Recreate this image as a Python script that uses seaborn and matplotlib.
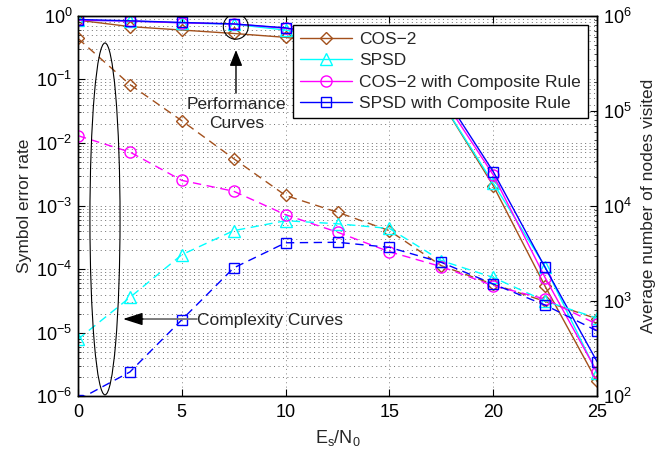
import matplotlib
matplotlib.use("Agg")
import matplotlib.pyplot as plt
import seaborn as sns
from matplotlib.patches import Ellipse
from matplotlib.ticker import LogLocator, NullFormatter, FixedLocator

# ---------------- data ----------------
snr = [0, 2.5, 5, 7.5, 10, 12.5, 15, 17.5, 20, 22.5, 25]
names = ["COS\u22122", "SPSD", "COS\u22122 with Composite Rule", "SPSD with Composite Rule"]

# symbol error rate (left axis, solid "performance curves")
ser_cos2 = [0.86, 0.68, 0.60, 0.53, 0.46, 0.37, 0.22, 0.045, 2.1e-3, 5.4e-5, 1.7e-6]
ser_spsd = [0.86, 0.83, 0.78, 0.74, 0.60, 0.42, 0.24, 0.045, 2.3e-3, 1.1e-4, 2.3e-6]
ser_cos2c = [0.86, 0.83, 0.78, 0.75, 0.64, 0.46, 0.28, 0.055, 3.1e-3, 7.4e-5, 2.4e-6]
ser_spsdc = [0.88, 0.84, 0.79, 0.75, 0.65, 0.48, 0.30, 0.065, 3.5e-3, 1.07e-4, 3.5e-6]

# average number of nodes visited (right axis, dashed "complexity curves")
nodes_cos2 = [5.8e5, 1.9e5, 7.9e4, 3.15e4, 1.29e4, 8.6e3, 5.5e3, 2.35e3, 1.5e3, 990, 650]
nodes_spsd = [396, 1090, 3070, 5500, 7000, 6500, 5800, 2660, 1770, 1000, 660]
nodes_cos2c = [5.5e4, 3.7e4, 1.86e4, 1.43e4, 8100, 5300, 3300, 2300, 1450, 1050, 570]
nodes_spsdc = [91, 179, 634, 2230, 4100, 4150, 3670, 2550, 1510, 906, 485]

colors = ["#A3501C", "#00FFFF", "#FF00FF", "#0000FF"]
markers = ["D", "^", "o", "s"]
msizes = [6.5, 8.5, 8.0, 7.0]

ser_all = [ser_cos2, ser_spsd, ser_cos2c, ser_spsdc]
nodes_all = [nodes_cos2, nodes_spsd, nodes_cos2c, nodes_spsdc]

# ---------------- style ----------------
sns.set_theme(style="white")
plt.rcParams["font.family"] = ["Liberation Sans", "DejaVu Sans"]
plt.rcParams["mathtext.fontset"] = "custom"
plt.rcParams["mathtext.rm"] = "Liberation Sans"
plt.rcParams["mathtext.it"] = "Liberation Sans:italic"
plt.rcParams["mathtext.default"] = "regular"
plt.rcParams["axes.edgecolor"] = "black"
plt.rcParams["axes.linewidth"] = 1.0

fig = plt.figure(figsize=(6.72, 4.54), dpi=100)
ax = fig.add_axes([78 / 672, 1 - 396 / 454, 519 / 672, 380 / 454])
ax2 = ax.twinx()

ax.set_yscale("log")
ax2.set_yscale("log")

handles = []
for y, c, m, ms in zip(ser_all, colors, markers, msizes):
    sns.lineplot(x=snr, y=y, ax=ax, color=c, marker=m, markersize=ms,
                 markerfacecolor="none", markeredgecolor=c, markeredgewidth=1.0,
                 linewidth=1.0, errorbar=None, legend=False, sort=False)
    handles.append(ax.lines[-1])

for y, c, m, ms in zip(nodes_all, colors, markers, msizes):
    sns.lineplot(x=snr, y=y, ax=ax2, color=c, marker=m, markersize=ms,
                 markerfacecolor="none", markeredgecolor=c, markeredgewidth=1.0,
                 linewidth=1.0, dashes=(6, 4), errorbar=None, legend=False, sort=False)

ax.set_xlim(0, 25)
ax.set_ylim(1e-6, 1)
ax2.set_ylim(1e2, 1e6)

ax.xaxis.set_major_locator(FixedLocator([0, 5, 10, 15, 20, 25]))
ax.set_xticklabels(["0", "5", "10", "15", "20", "25"])
for a in (ax, ax2):
    a.yaxis.set_major_locator(LogLocator(base=10, numticks=20))
    a.yaxis.set_minor_locator(LogLocator(base=10, subs=range(2, 10), numticks=20))
    a.yaxis.set_minor_formatter(NullFormatter())

ax.tick_params(axis="x", which="major", direction="in", top=True, bottom=True,
               length=5, width=0.8, labelsize=13, colors="black", pad=6)
ax.tick_params(axis="y", which="major", direction="in", left=True, right=False,
               length=5, width=0.8, labelsize=13, colors="black", pad=4)
ax.tick_params(axis="y", which="minor", direction="in", left=True, right=False,
               length=2.5, width=0.6)
ax2.tick_params(axis="y", which="major", direction="in", right=True, left=False,
                length=5, width=0.8, labelsize=13, colors="black", pad=4)
ax2.tick_params(axis="y", which="minor", direction="in", right=True, left=False,
                length=2.5, width=0.6)

ax.grid(which="both", axis="y", color="0.2", linewidth=0.5,
        linestyle=(0, (1.4, 5.0)))
ax.grid(which="major", axis="x", color="0.5", linewidth=0.6,
        linestyle=(0, (1.3, 4.0)))
ax2.grid(False)

ax.set_xlabel(r"E$_s$/N$_0$", fontsize=13, labelpad=5)
ax.set_ylabel("Symbol error rate", fontsize=12.5, labelpad=3)
ax2.set_ylabel("Average number of nodes visited", fontsize=12.5, labelpad=7)

leg = ax2.legend(handles, names, loc="upper right", bbox_to_anchor=(0.983, 0.976),
                 borderaxespad=0, fontsize=12.5, frameon=True, fancybox=False,
                 edgecolor="black", framealpha=1, borderpad=0.4, labelspacing=0.35,
                 handlelength=3.0, handletextpad=0.45)
leg.get_frame().set_linewidth(1.0)
leg.set_zorder(10)

# ---------------- annotations ----------------
ax2.add_patch(Ellipse((0.052, 0.466), 0.058, 0.926, transform=ax.transAxes,
                      fill=False, edgecolor="black", linewidth=0.8, zorder=6))
ax2.add_patch(Ellipse((0.304, 0.972), 0.048, 0.066, transform=ax.transAxes,
                      fill=False, edgecolor="black", linewidth=0.8, zorder=6))

ax2.annotate("", xy=(0.3044, 0.9105), xytext=(0.3044, 0.797),
             xycoords=ax.transAxes, textcoords=ax.transAxes,
             arrowprops=dict(arrowstyle="-|>,head_length=0.8,head_width=0.32",
                             color="black", lw=1.0, shrinkA=0, shrinkB=0))
ax2.text(0.305, 0.742, "Performance\nCurves", transform=ax.transAxes,
         ha="center", va="center", fontsize=12.5, multialignment="center",
         linespacing=1.3, zorder=7)

ax2.annotate("", xy=(0.11, 0.2026), xytext=(0.229, 0.2026),
             xycoords=ax.transAxes, textcoords=ax.transAxes,
             arrowprops=dict(arrowstyle="-", color="0.45", lw=1.3,
                             shrinkA=0, shrinkB=0))
ax2.annotate("", xy=(0.0867, 0.2026), xytext=(0.125, 0.2026),
             xycoords=ax.transAxes, textcoords=ax.transAxes,
             arrowprops=dict(arrowstyle="-|>,head_length=1.0,head_width=0.32",
                             color="black", lw=1.0, shrinkA=0, shrinkB=0))
ax2.text(0.229, 0.2, "Complexity Curves", transform=ax.transAxes,
         ha="left", va="center", fontsize=12.5, zorder=7)

for s in ax.spines.values():
    s.set_color("black")
    s.set_linewidth(1.0)

fig.savefig("out.png", dpi=100)
